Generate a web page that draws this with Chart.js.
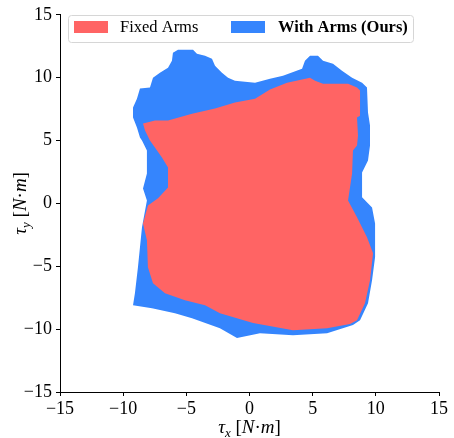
<!DOCTYPE html>
<html>
<head>
<meta charset="utf-8">
<script src="https://cdn.jsdelivr.net/npm/chart.js@4.4.0/dist/chart.umd.min.js"></script>
<style>
  html, body { margin: 0; padding: 0; background: #fff; }
  #wrap { width: 454px; height: 438px; }
</style>
</head>
<body>
<div id="wrap"><canvas id="torqueChart" width="454" height="438"></canvas></div>
<script>
// Reachable torque regions
const seriesNames = ['Fixed Arms', 'With Arms (Ours)'];

const withArmsX = [-6.06, -5.66, -4.47, -4.16, -3.52, -2.97, -2.73, -2.18, -1.70, -1.15, 0.44, 1.62, 2.65, 4.16, 4.39, 4.79,
  5.42, 5.82, 6.61, 7.32, 8.12, 8.91, 9.30, 9.38, 9.54, 9.54, 9.38, 8.91, 8.91, 9.70, 9.94, 9.94, 9.70, 9.38, 8.75,
  8.19, 6.14, 3.44, 0.83, -0.99, -2.34, -4.55, -5.90, -7.72, -9.22, -9.07, -8.83, -8.67, -8.51, -8.12, -8.43, -8.12,
  -8.12, -8.51, -8.67, -8.91, -9.22, -9.22, -8.91, -8.67, -7.88, -7.64, -7.09, -6.45, -6.14];
const withArmsY = [11.98, 12.22, 12.22, 11.90, 11.75, 11.51, 10.95, 10.40, 10.00, 9.76, 9.60, 9.92, 10.16, 10.71, 11.35, 11.75,
  11.75, 11.35, 11.11, 10.56, 10.00, 9.60, 9.21, 7.22, 6.19, 4.60, 3.41, 2.46, 0.48, -0.32, -1.59, -4.29, -6.11, -7.94, -9.29,
  -9.68, -10.32, -10.48, -10.32, -10.71, -9.92, -9.13, -8.73, -8.33, -8.10, -7.14, -5.08, -3.49, -1.90, 0.24, 1.19, 2.38,
  4.21, 5.00, 5.24, 6.03, 6.83, 7.62, 8.33, 9.13, 9.21, 10.00, 10.40, 10.79, 11.35];

const fixedArmsX = [-8.43, -7.48, -6.45, -4.55, -2.73, -1.15, 0.44, 1.62, 2.97, 4.79, 5.19, 5.82, 7.80, 8.51, 8.75, 8.75,
  8.51, 8.59, 8.51, 8.19, 8.12, 7.80, 8.51, 9.30, 9.78, 9.54, 9.14, 8.51, 7.96, 6.14, 3.44, 0.28, -2.34, -3.52, -5.11,
  -6.69, -7.64, -8.04, -8.12, -8.43, -8.04, -7.24, -6.45, -6.45, -6.93, -7.88, -8.27];
const fixedArmsY = [6.35, 6.59, 6.59, 7.14, 7.54, 8.02, 8.33, 9.05, 9.60, 10.00, 9.76, 9.52, 9.52, 9.21, 8.97, 6.98,
  6.83, 5.40, 4.60, 4.21, 2.38, 0.24, -1.11, -2.70, -3.97, -6.11, -7.94, -9.29, -9.60, -9.92, -10.08, -9.52, -8.73, -8.10, -7.70,
  -7.14, -6.35, -5.08, -2.94, -1.59, -0.16, 0.40, 1.27, 2.86, 3.65, 5.00, 5.79];

const axisMin = -15;
const axisMax = 15;
const tickStep = 5;

const RED = '#ff6464';
const BLUE = '#3585fd';

function toPoints(xs, ys) {
    const pts = xs.map((x, i) => ({ x: x, y: ys[i] }));
    pts.push({ x: xs[0], y: ys[0] });
    return pts;
}

const serif = "'Liberation Serif', 'DejaVu Serif', serif";

// Legend drawn inside the plot area, matplotlib style
const innerLegend = {
    id: 'innerLegend',
    afterDraw(chart) {
        const ctx = chart.ctx;
        const x0 = 68, y0 = 15, w = 345, h = 27;
        ctx.save();
        ctx.beginPath();
        ctx.roundRect(x0 + 0.5, y0 + 0.5, w, h, 3);
        ctx.fillStyle = 'rgba(255,255,255,0.85)';
        ctx.fill();
        ctx.strokeStyle = '#d6d6d6';
        ctx.lineWidth = 1;
        ctx.stroke();

        const items = [
            { label: seriesNames[0], color: chart.data.datasets[0].backgroundColor, patch: 74, text: 120, bold: false },
            { label: seriesNames[1], color: chart.data.datasets[1].backgroundColor, patch: 231, text: 278, bold: true }
        ];
        ctx.textBaseline = 'middle';
        items.forEach(it => {
            ctx.fillStyle = it.color;
            ctx.fillRect(it.patch, 21, 34, 12);
            ctx.fillStyle = '#000';
            ctx.font = (it.bold ? 'bold ' : '') + '16.5px ' + serif;
            ctx.fillText(it.label, it.text, 28);
        });
        ctx.restore();
    }
};

// Axis titles with subscripts
function drawMathLabel(ctx, sub) {
    const parts = [
        { t: 'τ', f: 'italic 19px ' + serif, dy: 0 },
        { t: sub, f: 'italic 13px ' + serif, dy: 4 },
        { t: ' [', f: '19px ' + serif, dy: 0 },
        { t: 'N', f: 'italic 19px ' + serif, dy: 0 },
        { t: '·', f: '19px ' + serif, dy: 0 },
        { t: 'm', f: 'italic 19px ' + serif, dy: 0 },
        { t: ']', f: '19px ' + serif, dy: 0 }
    ];
    let total = 0;
    parts.forEach(p => { ctx.font = p.f; p.w = ctx.measureText(p.t).width; total += p.w; });
    let x = -total / 2;
    ctx.textBaseline = 'alphabetic';
    ctx.fillStyle = '#000';
    parts.forEach(p => { ctx.font = p.f; ctx.fillText(p.t, x, 5 + p.dy); x += p.w; });
}

const axisTitles = {
    id: 'axisTitles',
    afterDraw(chart) {
        const ctx = chart.ctx;
        const area = chart.chartArea;
        ctx.save();
        ctx.translate((area.left + area.right) / 2, 428);
        drawMathLabel(ctx, 'x');
        ctx.restore();
        ctx.save();
        ctx.translate(21, (area.top + area.bottom) / 2);
        ctx.rotate(-Math.PI / 2);
        drawMathLabel(ctx, 'y');
        ctx.restore();
    }
};

const tickFmt = v => String(v).replace('-', '\u2212');

new Chart(document.getElementById('torqueChart'), {
    type: 'scatter',
    data: {
        datasets: [
            {
                label: seriesNames[0],
                data: toPoints(fixedArmsX, fixedArmsY),
                showLine: true,
                fill: 'shape',
                backgroundColor: RED,
                borderColor: RED,
                borderWidth: 0,
                pointRadius: 0,
                tension: 0
            },
            {
                label: seriesNames[1],
                data: toPoints(withArmsX, withArmsY),
                showLine: true,
                fill: 'shape',
                backgroundColor: BLUE,
                borderColor: BLUE,
                borderWidth: 0,
                pointRadius: 0,
                tension: 0
            }
        ]
    },
    options: {
        responsive: false,
        animation: false,
        layout: { padding: { top: 14, right: 15, left: 0, bottom: 0 } },
        plugins: {
            legend: { display: false },
            tooltip: { enabled: false }
        },
        scales: {
            x: {
                min: axisMin,
                max: axisMax,
                afterFit: scale => { scale.height = 46; },
                ticks: { stepSize: tickStep, color: '#000', padding: 2, maxRotation: 0, font: { family: serif, size: 18 }, callback: tickFmt },
                grid: { drawOnChartArea: false, drawTicks: true, tickLength: 4, color: '#000' },
                border: { display: true, color: '#000', width: 1 }
            },
            y: {
                min: axisMin,
                max: axisMax,
                afterFit: scale => { scale.width = 60; },
                ticks: { stepSize: tickStep, color: '#000', padding: 4, font: { family: serif, size: 18 }, callback: tickFmt },
                grid: { drawOnChartArea: false, drawTicks: true, tickLength: 4, color: '#000' },
                border: { display: true, color: '#000', width: 1 }
            }
        }
    },
    plugins: [innerLegend, axisTitles]
});
</script>
</body>
</html>
